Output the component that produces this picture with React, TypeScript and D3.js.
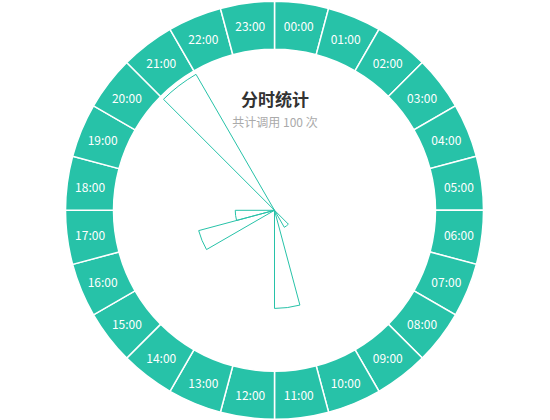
import React, { useEffect, useRef } from 'react';
import * as d3 from 'd3';

const hours = d3.range(24).map((h) => `${String(h).padStart(2, '0')}:00`);
const callHours = ['09:00', '11:00', '16:00', '17:00', '21:00'];
const callCounts = [5, 25, 20, 10, 40];
const title = '分时统计';
const subtitle = '共计调用 100 次';

const WIDTH = 550;
const HEIGHT = 420;
const TEAL = '#27c2a8';

const App: React.FC = () => {
  const ref = useRef<SVGSVGElement>(null);

  useEffect(() => {
    document.body.style.margin = '0';
    if (!ref.current) return;
    const svg = d3.select(ref.current);
    svg.selectAll('*').remove();

    const cx = 274.5;
    const cy = 210.3;
    const outerR = 209;
    const innerR = 161;
    const font = '"Noto Sans CJK SC", "Noto Sans", sans-serif';

    const g = svg.append('g').attr('transform', `translate(${cx},${cy})`);

    const angle = d3
      .scaleBand<string>()
      .domain(hours)
      .range([0, 2 * Math.PI])
      .padding(0);

    const radius = d3.scaleLinear().domain([0, 40]).range([0, 157]);

    // hour ring
    const ringArc = d3
      .arc<string>()
      .innerRadius(innerR)
      .outerRadius(outerR)
      .startAngle((d) => angle(d) ?? 0)
      .endAngle((d) => (angle(d) ?? 0) + angle.bandwidth());

    g.selectAll('path.ring')
      .data(hours)
      .enter()
      .append('path')
      .attr('class', 'ring')
      .attr('d', ringArc)
      .attr('fill', TEAL)
      .attr('stroke', '#fff')
      .attr('stroke-width', 1.5);

    const labelR = (innerR + outerR) / 2 + 1;
    g.selectAll('text.hour')
      .data(hours)
      .enter()
      .append('text')
      .attr('class', 'hour')
      .attr('x', (d) => labelR * Math.sin((angle(d) ?? 0) + angle.bandwidth() / 2))
      .attr('y', (d) => -labelR * Math.cos((angle(d) ?? 0) + angle.bandwidth() / 2))
      .attr('text-anchor', 'middle')
      .attr('dominant-baseline', 'central')
      .attr('fill', '#fff')
      .style('font-family', font)
      .style('font-size', '12px')
      .text((d) => d);

    // call bars
    const barData = callHours.map((h, i) => ({ hour: h, count: callCounts[i] }));
    const barArc = d3
      .arc<{ hour: string; count: number }>()
      .innerRadius(0)
      .outerRadius((d) => radius(d.count))
      .startAngle((d) => angle(d.hour) ?? 0)
      .endAngle((d) => (angle(d.hour) ?? 0) + angle.bandwidth());

    g.selectAll('path.bar')
      .data(barData)
      .enter()
      .append('path')
      .attr('class', 'bar')
      .attr('d', barArc)
      .attr('fill', 'none')
      .attr('stroke', TEAL)
      .attr('stroke-width', 1)
      .attr('stroke-linejoin', 'round');

    svg
      .append('text')
      .attr('x', 275)
      .attr('y', 106)
      .attr('text-anchor', 'middle')
      .attr('fill', '#333')
      .style('font-family', font)
      .style('font-size', '17px')
      .style('font-weight', 'bold')
      .text(title);

    svg
      .append('text')
      .attr('x', 275)
      .attr('y', 127)
      .attr('text-anchor', 'middle')
      .attr('fill', '#aaa')
      .style('font-family', font)
      .style('font-size', '12px')
      .text(subtitle);
  }, []);

  return <svg ref={ref} width={WIDTH} height={HEIGHT} style={{ display: 'block' }} />;
};

export default App;
